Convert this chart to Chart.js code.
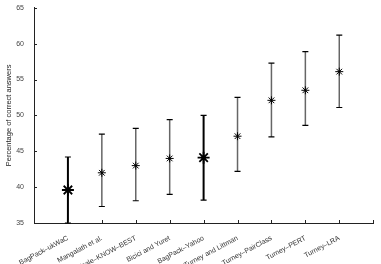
<!DOCTYPE html>
<html>
<head>
<meta charset="utf-8">
<script src="https://cdn.jsdelivr.net/npm/chart.js@4"></script>
<style>
  html, body { margin: 0; padding: 0; background: #fff; }
  #wrap { width: 381px; height: 264px; }
</style>
</head>
<body>
<div id="wrap"><canvas id="chart"></canvas></div>
<script>
const methods = ['BagPack–ukWaC', 'Mangalath et al.', 'Veale–KNOW–BEST', 'Bicici and Yuret', 'BagPack–Yahoo',
                 'Turney and Littman', 'Turney–PairClass', 'Turney–PERT', 'Turney–LRA'];
const means = [39.6, 42.0, 43.0, 44.0, 44.1, 47.1, 52.1, 53.5, 56.1];
const lows = [35.0, 37.3, 38.1, 39.0, 38.2, 42.2, 47.0, 48.6, 51.1];
const highs = [44.2, 47.4, 48.2, 49.4, 50.0, 52.5, 57.3, 58.9, 61.2];
const yTicks = [35, 40, 45, 50, 55, 60, 65];
// the two BagPack runs are drawn heavier
const bold = [true, false, false, false, true, false, false, false, false];

// error bars plus inward tick marks
const errorBars = {
    id: 'errorBars',
    beforeDatasetsDraw(chart) {
        const ctx = chart.ctx;
        const x = chart.scales.x, y = chart.scales.y;
        ctx.save();
        means.forEach(function (m, i) {
            const px = x.getPixelForValue(i + 1);
            const top = y.getPixelForValue(highs[i]);
            const bot = y.getPixelForValue(lows[i]);
            ctx.strokeStyle = bold[i] ? '#000' : '#666';
            ctx.lineWidth = bold[i] ? 2 : 1.5;
            ctx.beginPath();
            ctx.moveTo(px, top);
            ctx.lineTo(px, bot);
            ctx.stroke();
            ctx.strokeStyle = '#000';
            ctx.lineWidth = 1.2;
            ctx.beginPath();
            ctx.moveTo(px - 3, top);
            ctx.lineTo(px + 3, top);
            ctx.moveTo(px - 3, bot);
            ctx.lineTo(px + 3, bot);
            ctx.stroke();
        });
        ctx.strokeStyle = '#222';
        ctx.lineWidth = 1;
        ctx.beginPath();
        yTicks.forEach(function (t) {
            const py = Math.round(y.getPixelForValue(t)) + 0.5;
            ctx.moveTo(x.left, py);
            ctx.lineTo(x.left + 3, py);
        });
        for (let k = 1; k <= 10; k++) {
            const px = Math.round(x.getPixelForValue(k)) + 0.5;
            ctx.moveTo(px, y.bottom);
            ctx.lineTo(px, y.bottom - 3);
        }
        ctx.stroke();
        ctx.restore();
    }
};

new Chart(document.getElementById('chart'), {
    type: 'scatter',
    data: {
        datasets: [{
            data: means.map(function (m, i) { return { x: i + 1, y: m }; }),
            pointStyle: 'star',
            pointRadius: bold.map(function (b) { return b ? 6 : 4; }),
            borderWidth: bold.map(function (b) { return b ? 1.8 : 1; }),
            borderColor: '#000',
            backgroundColor: '#000'
        }]
    },
    options: {
        responsive: true,
        maintainAspectRatio: false,
        animation: false,
        layout: { padding: { top: 7, right: 1, left: 2, bottom: 0 } },
        plugins: { legend: { display: false }, tooltip: { enabled: false } },
        scales: {
            x: {
                type: 'linear',
                min: 0,
                max: 10,
                grid: { display: false },
                border: { color: '#222', width: 1 },
                afterFit: function (s) { s.height = 41; },
                ticks: {
                    stepSize: 1,
                    autoSkip: false,
                    minRotation: 28,
                    maxRotation: 28,
                    padding: 3,
                    color: '#333',
                    font: { family: 'Liberation Sans, Arial, sans-serif', size: 7 },
                    callback: function (v) { return methods[v - 1] || ''; }
                }
            },
            y: {
                min: 35,
                max: 65,
                grid: { display: false },
                border: { color: '#222', width: 1 },
                afterFit: function (s) { s.width = 32; },
                afterBuildTicks: function (s) { s.ticks = yTicks.map(function (v) { return { value: v }; }); },
                ticks: {
                    padding: 2,
                    color: '#444',
                    font: { family: 'Liberation Sans, Arial, sans-serif', size: 7 }
                },
                title: {
                    display: true,
                    text: 'Percentage of correct answers',
                    color: '#222',
                    padding: 2,
                    font: { family: 'Liberation Sans, Arial, sans-serif', size: 7.5 }
                }
            }
        }
    },
    plugins: [errorBars]
});
</script>
</body>
</html>
